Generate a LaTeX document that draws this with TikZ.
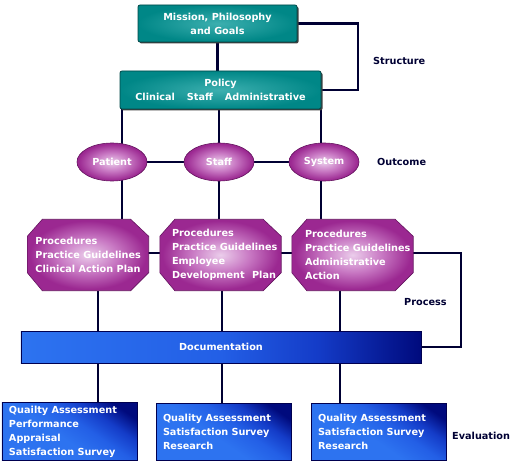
\documentclass[tikz,border=0pt]{standalone}
\usepackage{fontspec}
\setmainfont{DejaVu Sans}
\usetikzlibrary{shapes.geometric,shadows}
\pgfdeclarelayer{lines}
\pgfdeclarelayer{bg}
\pgfsetlayers{lines,bg,main}
\definecolor{linec}{RGB}{0,0,51}
\definecolor{tealmid}{RGB}{0,135,135}
\definecolor{teallight}{RGB}{60,175,175}
\definecolor{tealdark}{RGB}{0,70,70}
\definecolor{purp}{RGB}{155,40,145}
\definecolor{purpmid}{RGB}{200,120,195}
\definecolor{pinkc}{RGB}{235,205,235}
\definecolor{purpdark}{RGB}{100,20,95}
\definecolor{bluel}{RGB}{45,115,240}
\definecolor{bluel2}{RGB}{35,95,230}
\definecolor{bluem}{RGB}{20,60,200}
\definecolor{blued}{RGB}{0,10,125}
\definecolor{blueb}{RGB}{0,0,80}
\pgfdeclareradialshading{purpshade}{\pgfpoint{0bp}{0bp}}{color(0bp)=(pinkc); color(12bp)=(purpmid); color(24bp)=(purp); color(50bp)=(purp)}
\pgfdeclareradialshading{tealshade}{\pgfpoint{0bp}{0bp}}{color(0bp)=(teallight); color(25bp)=(tealmid); color(50bp)=(tealmid)}
\pgfdeclarehorizontalshading{docshade}{100bp}{color(0bp)=(bluel); color(25bp)=(bluel); color(50bp)=(bluel2); color(62bp)=(bluem); color(75bp)=(blued); color(100bp)=(blued)}
\pgfdeclareverticalshading{evalshade}{100bp}{color(0bp)=(bluel); color(45bp)=(bluel); color(57bp)=(bluel2); color(67bp)=(bluem); color(77bp)=(blued); color(100bp)=(blued)}
\newcommand\txtfont{\fontsize{9.7bp}{14bp}\selectfont\bfseries}
\tikzset{
  conn/.style={draw=linec, line width=2.5bp},
  tealbox/.style={rectangle, rounded corners=2bp, draw=tealdark, line width=0.8bp,
    shading=tealshade, text=white, align=center, font=\txtfont, inner sep=0pt,
    drop shadow={shadow xshift=1.5bp, shadow yshift=-1.5bp, fill=black!75, opacity=1}},
  oval/.style={ellipse, minimum width=70bp, minimum height=38bp, inner sep=0pt,
    shading=purpshade, draw=purpdark, line width=0.6bp, text=white, font=\txtfont},
  octnode/.style={rectangle, minimum width=121bp, minimum height=71bp, inner sep=0pt},
  octfill/.style={shading=purpshade, draw=purpdark, line width=0.6bp},
  octtxt/.style={anchor=west, text=white, font=\txtfont, align=left, inner sep=0pt},
  docbox/.style={rectangle, minimum width=400bp, minimum height=32bp, inner sep=0pt,
    shading=docshade, draw=blueb, line width=0.6bp,
    text=white, font=\txtfont},
  evalbox/.style={rectangle, minimum width=135bp, minimum height=57bp, inner xsep=7bp,
    text width=121bp, align=left, shading=evalshade, shading angle=-35,
    draw=blueb, line width=0.6bp, text=white, font=\txtfont},
  lbl/.style={text=linec, font=\txtfont, inner sep=0pt}
}
\newcommand\octpath[1]{%
  \begin{pgfonlayer}{bg}
  \path[octfill] ([xshift=15bp]#1.north west) -- ([xshift=-18bp]#1.north east)
    -- ([yshift=-17bp]#1.north east) -- ([yshift=18bp]#1.south east)
    -- ([xshift=-18bp]#1.south east) -- ([xshift=15bp]#1.south west)
    -- ([yshift=18bp]#1.south west) -- ([yshift=-17bp]#1.north west) -- cycle;
  \end{pgfonlayer}}
\begin{document}
\begin{tikzpicture}[x=1bp,y=-1bp]
\useasboundingbox (0,0) rectangle (513,466);
% top boxes
\node[tealbox, minimum width=159bp, minimum height=37bp] (mission) at (217.5,23.5)
  {Mission, Philosophy\\and Goals};
\node[tealbox, minimum width=201bp, minimum height=38bp] (policy) at (220.5,90)
  {Policy\\Clinical\hspace{12bp}Staff\hspace{12bp}Administrative};
% ovals
\node[oval] (patient) at (112,162) {Patient};
\node[oval] (staff) at (219,162) {Staff};
\node[oval] (system) at (324,162) {System};
% octagons
\node[octnode] (o1) at (88,255) {};
\node[octnode] (o2) at (220.5,255) {};
\node[octnode] (o3) at (352.5,255) {};
\octpath{o1}\octpath{o2}\octpath{o3}
\node[octtxt] (t1) at ([xshift=8bp]o1.west) {Procedures\\Practice Guidelines\\Clinical Action Plan};
\node[octtxt] (t2) at ([xshift=12bp]o2.west) {Procedures\\Practice Guidelines\\Employee\\Development\hspace{4bp} Plan};
\node[octtxt] (t3) at ([xshift=13bp]o3.west) {Procedures\\Practice Guidelines\\Administrative\\Action};
% documentation
\node[docbox] (doc) at (221,347) {Documentation};
% evaluation boxes
\node[evalbox] (e1) at (69.5,431.5) {Quailty Assessment\\Performance\\Appraisal\\Satisfaction Survey};
\node[evalbox] (e2) at (223.5,431.5) {Quality Assessment\\Satisfaction Survey\\Research};
\node[evalbox] (e3) at (378.5,431.5) {Quality Assessment\\Satisfaction Survey\\Research};
% labels
\node[lbl, anchor=west] (lstruct) at (373,61) {Structure};
\node[lbl, anchor=west] (lout) at (377,162) {Outcome};
\node[lbl, anchor=west] (lproc) at (404,302) {Process};
\node[lbl, anchor=west] (leval) at (452,436) {Evaluation};
% connectors
\coordinate (sb) at (358,90);
\coordinate (pb) at (461,347);
\begin{pgfonlayer}{lines}
\draw[conn] (mission.south) -- (mission.south |- policy.north);
\draw[conn] (mission.east) -| (sb) -- (policy.east);
\draw[conn] (policy.south -| 122,0) -- (o1.north -| 122,0);
\draw[conn] (policy.south -| staff) -- (o2.north -| staff);
\draw[conn] (policy.south -| 321,0) -- (o3.north -| 321,0);
\draw[conn] (patient) -- (staff);
\draw[conn] (staff) -- (system);
\draw[conn] (o1.center |- 0,253) -- (o2.center |- 0,253);
\draw[conn] (o2.center |- 0,253) -- (o3.center |- 0,253);
\draw[conn] (o3.center |- 0,253) -| (pb) -- (doc.east);
\draw[conn] (o1.south -| 98,0) -- (e1.north -| 98,0);
\draw[conn] (o2.south -| 222,0) -- (e2.north -| 222,0);
\draw[conn] (o3.south -| 340,0) -- (e3.north -| 340,0);
\end{pgfonlayer}
\end{tikzpicture}
\end{document}
